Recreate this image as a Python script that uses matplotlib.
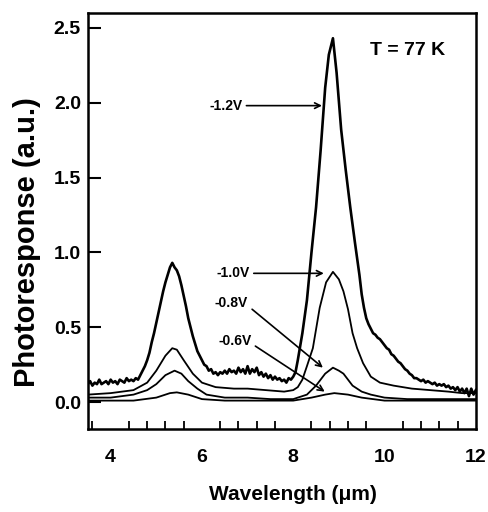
import numpy as np
import matplotlib
matplotlib.use("Agg")
import matplotlib.pyplot as plt
from matplotlib.ticker import FixedLocator

plt.rcParams['font.family'] = ['Liberation Sans', 'DejaVu Sans']
plt.rcParams['font.weight'] = 'bold'

# -1.2 V (noisy trace)
wl_12 = [3.5, 3.55, 3.6, 3.65, 3.7, 3.75, 3.8, 3.85, 3.9, 3.95,
         4.0, 4.05, 4.1, 4.15, 4.2, 4.25, 4.3, 4.35, 4.4, 4.45,
         4.5, 4.55, 4.6, 4.65, 4.7, 4.75, 4.8, 4.85, 4.9, 4.95,
         5.0, 5.05, 5.1, 5.15, 5.2, 5.25, 5.3, 5.35, 5.4, 5.45,
         5.5, 5.55, 5.6, 5.65, 5.7, 5.75, 5.8, 5.85, 5.9, 5.95,
         6.0, 6.05, 6.1, 6.15, 6.2, 6.25, 6.3, 6.35, 6.4, 6.45,
         6.5, 6.55, 6.6, 6.65, 6.7, 6.75, 6.8, 6.85, 6.9, 6.95,
         7.0, 7.05, 7.1, 7.15, 7.2, 7.25, 7.3, 7.35, 7.4, 7.45,
         7.5, 7.55, 7.6, 7.65, 7.7, 7.75, 7.8, 7.85, 7.9, 7.95,
         8.0, 8.05, 8.1, 8.2, 8.3, 8.4, 8.5, 8.6, 8.7, 8.78,
         8.87, 8.95, 9.05, 9.15, 9.25, 9.35, 9.45, 9.5, 9.55, 9.6,
         9.65, 9.7, 9.75, 9.8, 9.85, 9.9, 9.95, 10.0, 10.05, 10.1,
         10.15, 10.2, 10.25, 10.3, 10.35, 10.4, 10.45, 10.5, 10.55, 10.6,
         10.65, 10.7, 10.75, 10.8, 10.85, 10.9, 10.95, 11.0, 11.05, 11.1,
         11.15, 11.2, 11.25, 11.3, 11.35, 11.4, 11.45, 11.5, 11.55, 11.6,
         11.65, 11.7, 11.75, 11.8, 11.85, 11.9, 11.95, 12.0]
pr_12 = [0.12, 0.14, 0.11, 0.13, 0.12, 0.15, 0.12, 0.13, 0.14, 0.12,
         0.15, 0.13, 0.14, 0.12, 0.15, 0.14, 0.13, 0.16, 0.14, 0.15,
         0.14, 0.16, 0.15, 0.18, 0.21, 0.24, 0.28, 0.33, 0.40, 0.46,
         0.53, 0.60, 0.67, 0.74, 0.80, 0.85, 0.90, 0.93, 0.90, 0.88,
         0.84, 0.78, 0.71, 0.64, 0.56, 0.50, 0.44, 0.39, 0.34, 0.31,
         0.28, 0.25, 0.24, 0.21, 0.22, 0.19, 0.20, 0.18, 0.20, 0.19,
         0.21, 0.19, 0.22, 0.20, 0.21, 0.19, 0.23, 0.20, 0.22, 0.19,
         0.24, 0.19, 0.22, 0.20, 0.23, 0.18, 0.20, 0.17, 0.19, 0.16,
         0.18, 0.15, 0.17, 0.15, 0.16, 0.14, 0.15, 0.13, 0.16, 0.15,
         0.17, 0.20, 0.28, 0.46, 0.68, 1.00, 1.30, 1.68, 2.10, 2.32,
         2.43, 2.20, 1.82, 1.55, 1.30, 1.07, 0.85, 0.72, 0.63, 0.56,
         0.52, 0.49, 0.46, 0.45, 0.43, 0.42, 0.40, 0.38, 0.36, 0.35,
         0.32, 0.31, 0.29, 0.27, 0.26, 0.24, 0.22, 0.21, 0.19, 0.18,
         0.16, 0.16, 0.15, 0.14, 0.15, 0.13, 0.14, 0.13, 0.12, 0.13,
         0.11, 0.12, 0.11, 0.12, 0.10, 0.11, 0.09, 0.10, 0.08, 0.10,
         0.07, 0.09, 0.06, 0.09, 0.04, 0.09, 0.05, 0.08]

# -1.0 V
wl_10 = [3.5, 4.0, 4.5, 4.8, 5.0, 5.2, 5.35, 5.45, 5.6, 5.8, 6.0, 6.3, 6.7, 7.0, 7.4, 7.8, 8.0,
         8.1, 8.2, 8.3, 8.43, 8.58, 8.72, 8.87, 9.0, 9.1, 9.2, 9.3, 9.4, 9.53, 9.7, 9.9, 10.2,
         10.6, 11.0, 11.4, 11.7, 12.0]
pr_10 = [0.05, 0.06, 0.08, 0.13, 0.21, 0.31, 0.36, 0.35, 0.28, 0.19, 0.13, 0.10, 0.09, 0.09, 0.08,
         0.07, 0.08, 0.10, 0.15, 0.24, 0.36, 0.63, 0.80, 0.87, 0.82, 0.74, 0.62, 0.46, 0.36, 0.26,
         0.17, 0.13, 0.11, 0.09, 0.08, 0.07, 0.06, 0.06]

# -0.8 V
wl_08 = [3.5, 4.0, 4.5, 4.8, 5.0, 5.2, 5.4, 5.55, 5.7, 5.9, 6.1, 6.5, 7.0, 7.5, 8.0, 8.3, 8.5,
         8.7, 8.87, 9.0, 9.1, 9.3, 9.5, 9.7, 10.0, 10.5, 11.0, 12.0]
pr_08 = [0.03, 0.03, 0.05, 0.08, 0.12, 0.18, 0.21, 0.19, 0.14, 0.09, 0.05, 0.03, 0.03, 0.02, 0.02,
         0.05, 0.11, 0.19, 0.23, 0.21, 0.19, 0.11, 0.07, 0.05, 0.03, 0.02, 0.02, 0.02]

# -0.6 V
wl_06 = [3.5, 4.5, 5.0, 5.3, 5.45, 5.7, 6.0, 6.5, 8.0, 8.4, 8.7, 8.9, 9.2, 9.5, 10.0, 12.0]
pr_06 = [0.01, 0.01, 0.03, 0.06, 0.065, 0.05, 0.02, 0.01, 0.01, 0.03, 0.05, 0.06, 0.05, 0.03, 0.01, 0.01]

labels = ['-1.2V', '-1.0V', '-0.8V', '-0.6V']

fig = plt.figure(figsize=(4.88, 5.12), dpi=100)
ax = fig.add_axes([0.180, 0.162, 0.795, 0.813])

ax.plot(wl_12, pr_12, color='black', lw=1.9)
ax.plot(wl_10, pr_10, color='black', lw=1.3)
ax.plot(wl_08, pr_08, color='black', lw=1.3)
ax.plot(wl_06, pr_06, color='black', lw=1.3)

ax.set_xlim(3.5, 12)
ax.set_ylim(-0.18, 2.6)

ax.set_xticks([4, 6, 8, 10, 12])
minor = [v for v in np.arange(3.6, 12.0, 0.4) if abs(v / 2 - round(v / 2)) > 0.01]
ax.xaxis.set_minor_locator(FixedLocator(minor))
ax.set_yticks([0.0, 0.5, 1.0, 1.5, 2.0, 2.5])
ax.set_yticklabels(['0.0', '0.5', '1.0', '1.5', '2.0', '2.5'])

ax.tick_params(axis='x', which='major', length=0, pad=14, labelsize=14)
ax.tick_params(axis='x', which='minor', direction='in', length=6, width=1.3)
ax.tick_params(axis='y', which='major', direction='in', length=9, width=1.5, labelsize=14, pad=5)
for lab in ax.get_xticklabels() + ax.get_yticklabels():
    lab.set_fontweight('bold')

for s in ax.spines.values():
    s.set_linewidth(1.8)

ax.set_xlabel('Wavelength (\u03bcm)', fontsize=15, fontweight='bold')
ax.set_ylabel('Photoresponse (a.u.)', fontsize=21, fontweight='bold')
ax.xaxis.set_label_coords(0.528, -0.135)
ax.yaxis.set_label_coords(-0.12, 0.45)

ax.text(10.5, 2.35, 'T = 77 K', fontsize=14, fontweight='bold', ha='center', va='center')

arrow = dict(arrowstyle='->', color='black', lw=1.2, shrinkA=1, shrinkB=0)
ax.annotate(labels[0], xy=(8.63, 1.98), xytext=(6.52, 1.98), fontsize=10, fontweight='bold',
            ha='center', va='center', arrowprops=dict(arrow, relpos=(1, 0.5)))
ax.annotate(labels[1], xy=(8.67, 0.86), xytext=(6.68, 0.86), fontsize=10, fontweight='bold',
            ha='center', va='center', arrowprops=dict(arrow, relpos=(1, 0.5)))
ax.annotate(labels[2], xy=(8.65, 0.23), xytext=(6.65, 0.66), fontsize=10, fontweight='bold',
            ha='center', va='center', arrowprops=dict(arrow, relpos=(1, 0.3)))
ax.annotate(labels[3], xy=(8.69, 0.07), xytext=(6.72, 0.41), fontsize=10, fontweight='bold',
            ha='center', va='center', arrowprops=dict(arrow, relpos=(1, 0.3)))

fig.savefig('out.png', dpi=100)
